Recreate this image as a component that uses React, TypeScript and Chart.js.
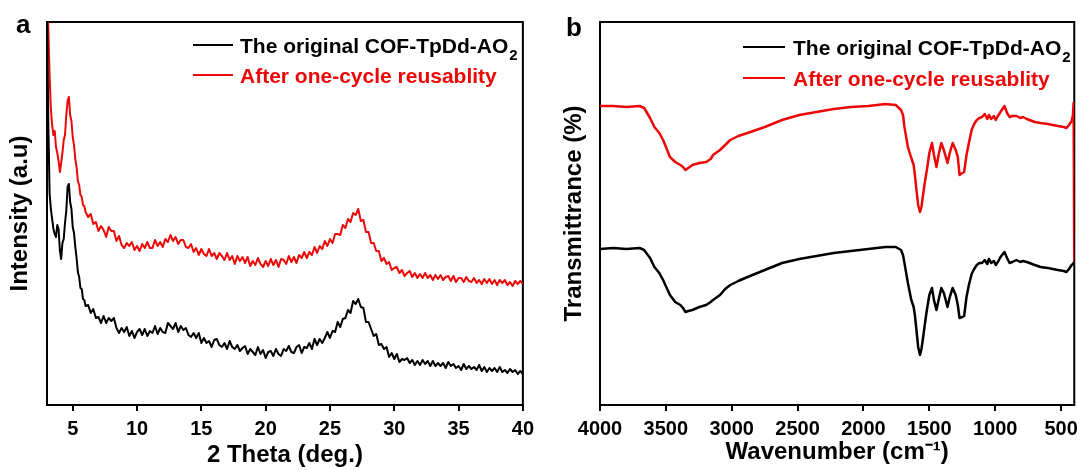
import React, { useEffect, useRef } from "react";
import { Chart, registerables } from "chart.js";

Chart.register(...registerables);

const FONT = "'Liberation Sans', Arial, Helvetica, sans-serif";
const BLACK = "#000000";
const RED = "#ec0808";

const seriesLabels = ["The original COF-TpDd-AO₂", "After one-cycle reusablity"];

// ---------- panel a: XRD ----------
const xrdTicks = [5, 10, 15, 20, 25, 30, 35, 40];

const xrdTheta = [
  3.0, 3.1, 3.2, 3.3, 3.4, 3.5, 3.6, 3.7, 3.8, 3.9,
  4.0, 4.1, 4.2, 4.3, 4.4, 4.5, 4.6, 4.7, 4.8, 4.9,
  5.0, 5.1, 5.2, 5.3, 5.4, 5.5, 5.6, 5.7, 5.8, 5.9,
  6.0,
  6.2, 6.4, 6.6, 6.8, 7.0, 7.2, 7.4, 7.6, 7.8, 8.0,
  8.2, 8.4, 8.6, 8.8, 9.0, 9.2, 9.4, 9.6, 9.8, 10.0,
  10.2, 10.4, 10.6, 10.8, 11.0, 11.2, 11.4, 11.6, 11.8, 12.0,
  12.2, 12.4, 12.6, 12.8, 13.0, 13.2, 13.4, 13.6, 13.8, 14.0,
  14.2, 14.4, 14.6, 14.8, 15.0, 15.2, 15.4, 15.6, 15.8, 16.0,
  16.2, 16.4, 16.6, 16.8, 17.0, 17.2, 17.4, 17.6, 17.8, 18.0,
  18.2, 18.4, 18.6, 18.8, 19.0, 19.2, 19.4, 19.6, 19.8, 20.0,
  20.2, 20.4, 20.6, 20.8, 21.0, 21.2, 21.4, 21.6, 21.8, 22.0,
  22.2, 22.4, 22.6, 22.8, 23.0, 23.2, 23.4, 23.6, 23.8, 24.0,
  24.2, 24.4, 24.6, 24.8, 25.0, 25.2, 25.4, 25.6, 25.8, 26.0,
  26.2, 26.4, 26.6, 26.8, 27.0, 27.2, 27.4, 27.6, 27.8, 28.0,
  28.2, 28.4, 28.6, 28.8, 29.0, 29.2, 29.4, 29.6, 29.8, 30.0,
  30.2, 30.4, 30.6, 30.8, 31.0, 31.2, 31.4, 31.6, 31.8, 32.0,
  32.2, 32.4, 32.6, 32.8, 33.0, 33.2, 33.4, 33.6, 33.8, 34.0,
  34.2, 34.4, 34.6, 34.8, 35.0, 35.2, 35.4, 35.6, 35.8, 36.0,
  36.2, 36.4, 36.6, 36.8, 37.0, 37.2, 37.4, 37.6, 37.8, 38.0,
  38.2, 38.4, 38.6, 38.8, 39.0, 39.2, 39.4, 39.6, 39.8, 40.0,
];

const xrdOriginal = [
  395, 285, 212, 196, 186, 176, 171, 168, 180, 176,
  155, 146, 162, 166, 182, 194, 218, 221, 203, 196,
  178, 172, 158, 147, 133, 128, 117, 116, 106, 105,
  99,
  100, 92, 96, 87, 88, 82, 89, 82, 87, 84,
  87, 77, 72, 77, 73, 78, 69, 74, 67, 73,
  76, 70, 76, 69, 74, 72, 79, 71, 77, 73,
  72, 82, 79, 76, 82, 73, 79, 75, 77, 70,
  68, 72, 67, 72, 62, 67, 62, 64, 58, 65,
  66, 60, 58, 62, 56, 64, 58, 56, 60, 54,
  57, 59, 51, 56, 53, 50, 58, 51, 55, 47,
  53, 54, 49, 56, 51, 49, 56, 54, 59, 53,
  52, 58, 60, 52, 58, 57, 62, 56, 66, 60,
  66, 62, 67, 73, 67, 74, 73, 83, 78, 86,
  87, 95, 92, 104, 101, 106, 98, 97, 83, 83,
  76, 69, 71, 60, 61, 56, 58, 48, 52, 46,
  51, 43, 46, 45, 47, 42, 45, 40, 44, 40,
  45, 41, 44, 39, 44, 39, 42, 39, 42, 37,
  43, 39, 41, 37, 39, 35, 41, 36, 39, 36,
  38, 35, 40, 34, 38, 33, 37, 34, 37, 33,
  38, 33, 35, 32, 36, 33, 35, 31, 34, 31,
];

const xrdReused = [
  400, 378, 330, 296, 280, 270, 274, 258, 252, 244,
  233, 242, 252, 265, 270, 290, 304, 308, 290, 284,
  268, 260, 246, 238, 224, 220, 210, 208, 200, 199,
  193,
  188, 191, 181, 183, 174, 179, 175, 168, 178, 174,
  174, 164, 169, 160, 157, 162, 159, 163, 155, 159,
  154, 161, 157, 163, 157, 157, 165, 159, 163, 158,
  166, 163, 170, 164, 168, 161, 165, 165, 158, 157,
  161, 153, 157, 150, 156, 151, 149, 156, 149, 152,
  146, 152, 149, 145, 152, 145, 149, 141, 149, 144,
  148, 142, 148, 139, 144, 140, 147, 141, 138, 144,
  139, 146, 140, 145, 138, 146, 145, 141, 149, 143,
  148, 142, 150, 147, 153, 147, 153, 150, 158, 152,
  159, 156, 164, 159, 166, 162, 171, 171, 170, 180,
  177, 186, 183, 192, 190, 196, 184, 185, 173, 173,
  162, 162, 154, 154, 144, 147, 141, 143, 135, 137,
  138, 132, 135, 129, 132, 134, 128, 132, 127, 131,
  127, 132, 127, 130, 125, 130, 126, 130, 125, 128,
  129, 124, 129, 123, 127, 127, 123, 128, 124, 123,
  127, 122, 125, 121, 126, 122, 126, 121, 125, 120,
  125, 122, 125, 120, 123, 119, 124, 121, 124, 121,
];

// ---------- panel b: FTIR ----------
const ftirTicks = [4000, 3500, 3000, 2500, 2000, 1500, 1000, 500];

const ftirWavenumber = [
  4000, 3900, 3800, 3700, 3665, 3620, 3587, 3550, 3521, 3490,
  3469, 3429, 3390, 3370, 3351, 3330, 3299, 3246, 3194, 3160,
  3142, 3089, 3050, 3011, 2950, 2880, 2749, 2618, 2487, 2357,
  2226, 2095, 1964, 1833, 1755, 1715, 1700, 1689, 1663, 1637,
  1619, 1610, 1598, 1585, 1571, 1560, 1550, 1535, 1519, 1500,
  1480, 1465, 1446, 1430, 1409, 1390, 1362, 1345, 1323, 1300,
  1284, 1271, 1250, 1236, 1218, 1200, 1179, 1160, 1140, 1120,
  1100, 1080, 1060, 1048, 1030, 1010, 996, 980, 960, 930,
  910, 891, 870, 839, 810, 790, 760, 700, 656, 600,
  525, 480, 459, 440, 420, 410, 405, 400,
];

const ftirOriginal = [
  156, 157, 156, 157, 155, 147, 138, 132, 125, 116,
  110, 103, 100, 97, 93, 94, 95, 98, 100, 103,
  105, 110, 116, 120, 124, 128, 135, 142, 146, 149,
  152, 154, 156, 158, 158, 155, 150, 142, 122, 105,
  98, 90, 75, 58, 50, 56, 65, 80, 95, 110,
  117, 105, 95, 105, 117, 112, 98, 108, 117, 110,
  100, 87, 88, 89, 108, 120, 131, 136, 140, 142,
  142, 145, 141, 146, 142, 144, 140, 143, 148, 153,
  147, 142, 143, 145, 143, 144, 143, 140, 138, 137,
  135, 134, 133, 136, 140, 141, 142, 143,
];

const ftirReused = [
  299, 299, 298, 299, 297, 287, 278, 272, 265, 255,
  248, 243, 240, 238, 235, 237, 240, 242, 243, 246,
  250, 255, 260, 265, 269, 272, 278, 285, 290, 293,
  296, 298, 299, 301, 300, 295, 290, 278, 258, 247,
  240, 230, 215, 200, 193, 198, 208, 222, 235, 252,
  262, 250, 238, 250, 262, 255, 242, 252, 262, 255,
  248, 230, 232, 233, 250, 262, 275, 281, 285, 287,
  288, 291, 286, 290, 286, 289, 285, 289, 293, 299,
  292, 288, 289, 289, 287, 288, 286, 283, 282, 281,
  279, 278, 277, 280, 284, 290, 302, 140,
];

// ---------- plugins ----------
const framePlugin = {
  id: "plotFrame",
  beforeDatasetsDraw(chart: any) {
    const { ctx, chartArea } = chart;
    ctx.save();
    ctx.strokeStyle = "#000";
    ctx.lineWidth = 2;
    ctx.strokeRect(chartArea.left, chartArea.top, chartArea.right - chartArea.left, chartArea.bottom - chartArea.top);
    ctx.restore();
  },
};

const insetLegendPlugin = {
  id: "insetLegend",
  afterDatasetsDraw(chart: any, _args: any, opts: any) {
    const ctx = chart.ctx;
    ctx.save();
    chart.data.datasets.forEach((ds: any, i: number) => {
      const y = opts.y + i * opts.rowGap;
      ctx.strokeStyle = ds.borderColor;
      ctx.lineWidth = opts.lineWidth;
      ctx.beginPath();
      ctx.moveTo(opts.x, y);
      ctx.lineTo(opts.x + opts.lineLength, y);
      ctx.stroke();
      const label: string = ds.label;
      let main = label;
      let sub = "";
      if (label.endsWith("₂")) {
        main = label.slice(0, -1);
        sub = "2";
      }
      ctx.fillStyle = ds.borderColor;
      ctx.textAlign = "left";
      ctx.textBaseline = "alphabetic";
      ctx.font = `bold ${opts.fontSize}px ${FONT}`;
      const tx = opts.x + opts.lineLength + opts.gap;
      const base = y + opts.fontSize * 0.36;
      ctx.fillText(main, tx, base);
      if (sub) {
        const w = ctx.measureText(main).width;
        ctx.font = `bold ${opts.subSize}px ${FONT}`;
        ctx.fillText(sub, tx + w + 1, base + opts.subShift);
      }
    });
    ctx.restore();
  },
};

const panelLetterPlugin = {
  id: "panelLetter",
  afterDraw(chart: any, _args: any, opts: any) {
    const ctx = chart.ctx;
    ctx.save();
    ctx.fillStyle = "#000";
    ctx.font = `bold ${opts.size}px ${FONT}`;
    ctx.textAlign = "left";
    ctx.textBaseline = "alphabetic";
    ctx.fillText(opts.text, opts.x, opts.y);
    ctx.restore();
  },
};

const tickFont = { family: FONT, size: 20, weight: "bold" as const };
const titleFont = { family: FONT, size: 24, weight: "bold" as const };

function xAxis(min: number, max: number, ticks: number[], title: string, reverse: boolean, titleBottom: number) {
  return {
    type: "linear" as const,
    min,
    max,
    reverse,
    afterBuildTicks: (s: any) => {
      s.ticks = ticks.map((v) => ({ value: v }));
    },
    afterFit: (s: any) => {
      s.height = 65;
    },
    grid: {
      display: true,
      drawOnChartArea: false,
      drawTicks: true,
      tickLength: 6,
      tickColor: "#000",
      tickWidth: 2,
      lineWidth: 2,
    },
    border: { display: false },
    ticks: {
      color: "#000",
      font: tickFont,
      padding: 6,
      maxRotation: 0,
      autoSkip: false,
      callback: (v: any) => String(v),
    },
    title: {
      display: true,
      text: title,
      color: "#000",
      font: titleFont,
      padding: { top: 0, bottom: titleBottom },
    },
  };
}

function yAxis(width: number, title: string, titleOffset: number) {
  return {
    type: "linear" as const,
    min: 0,
    max: 383,
    afterFit: (s: any) => {
      s.width = width;
    },
    grid: { display: false },
    border: { display: false },
    ticks: { display: false },
    title: {
      display: true,
      text: title,
      color: "#000",
      font: titleFont,
      padding: { top: titleOffset, bottom: 0 },
    },
  };
}

function lineDataset(label: string, xs: number[], ys: number[], color: string, width: number) {
  return {
    label,
    data: xs.map((x, i) => ({ x, y: ys[i] })),
    borderColor: color,
    backgroundColor: color,
    borderWidth: width,
    pointRadius: 0,
    tension: 0,
    borderJoinStyle: "round" as const,
    fill: false,
  };
}

function configA(): any {
  return {
    type: "line",
    data: {
      datasets: [
        lineDataset(seriesLabels[0], xrdTheta, xrdOriginal, BLACK, 2),
        lineDataset(seriesLabels[1], xrdTheta, xrdReused, RED, 2),
      ],
    },
    options: {
      responsive: false,
      animation: false,
      events: [],
      layout: { padding: { left: 0, top: 22, right: 15, bottom: 0 }, autoPadding: false },
      plugins: {
        legend: { display: false },
        tooltip: { enabled: false },
        insetLegend: { x: 193, y: 45, rowGap: 30, lineLength: 40, gap: 7, lineWidth: 2, fontSize: 21, subSize: 15, subShift: 7 },
        panelLetter: { text: "a", x: 16, y: 33, size: 26 },
      },
      scales: {
        x: xAxis(3, 40, xrdTicks, "2 Theta (deg.)", false, 0),
        y: yAxis(47, "Intensity (a.u)", 6),
      },
    },
    plugins: [framePlugin, insetLegendPlugin, panelLetterPlugin],
  };
}

function configB(): any {
  return {
    type: "line",
    data: {
      datasets: [
        lineDataset(seriesLabels[0], ftirWavenumber, ftirOriginal, BLACK, 2.5),
        lineDataset(seriesLabels[1], ftirWavenumber, ftirReused, RED, 2.5),
      ],
    },
    options: {
      responsive: false,
      animation: false,
      events: [],
      layout: { padding: { left: 0, top: 22, right: 8, bottom: 0 }, autoPadding: false },
      plugins: {
        legend: { display: false },
        tooltip: { enabled: false },
        insetLegend: { x: 203, y: 47, rowGap: 31, lineLength: 42, gap: 8, lineWidth: 2, fontSize: 21, subSize: 15, subShift: 7 },
        panelLetter: { text: "b", x: 26, y: 36, size: 26 },
      },
      scales: {
        x: xAxis(400, 4000, ftirTicks, "Wavenumber (cm⁻¹)", true, 3),
        y: yAxis(60, "Transmittrance (%)", 20),
      },
    },
    plugins: [framePlugin, insetLegendPlugin, panelLetterPlugin],
  };
}

export default function App() {
  const refA = useRef<HTMLCanvasElement>(null);
  const refB = useRef<HTMLCanvasElement>(null);

  useEffect(() => {
    const a = new Chart(refA.current as HTMLCanvasElement, configA());
    const b = new Chart(refB.current as HTMLCanvasElement, configB());
    return () => {
      a.destroy();
      b.destroy();
    };
  }, []);

  return (
    <div style={{ position: "fixed", left: 0, top: 0, width: 1084, height: 470, background: "#ffffff" }}>
      <canvas
        ref={refA}
        width={540}
        height={470}
        style={{ position: "absolute", left: 0, top: 0, width: 540, height: 470 }}
      />
      <canvas
        ref={refB}
        width={544}
        height={470}
        style={{ position: "absolute", left: 540, top: 0, width: 544, height: 470 }}
      />
    </div>
  );
}
